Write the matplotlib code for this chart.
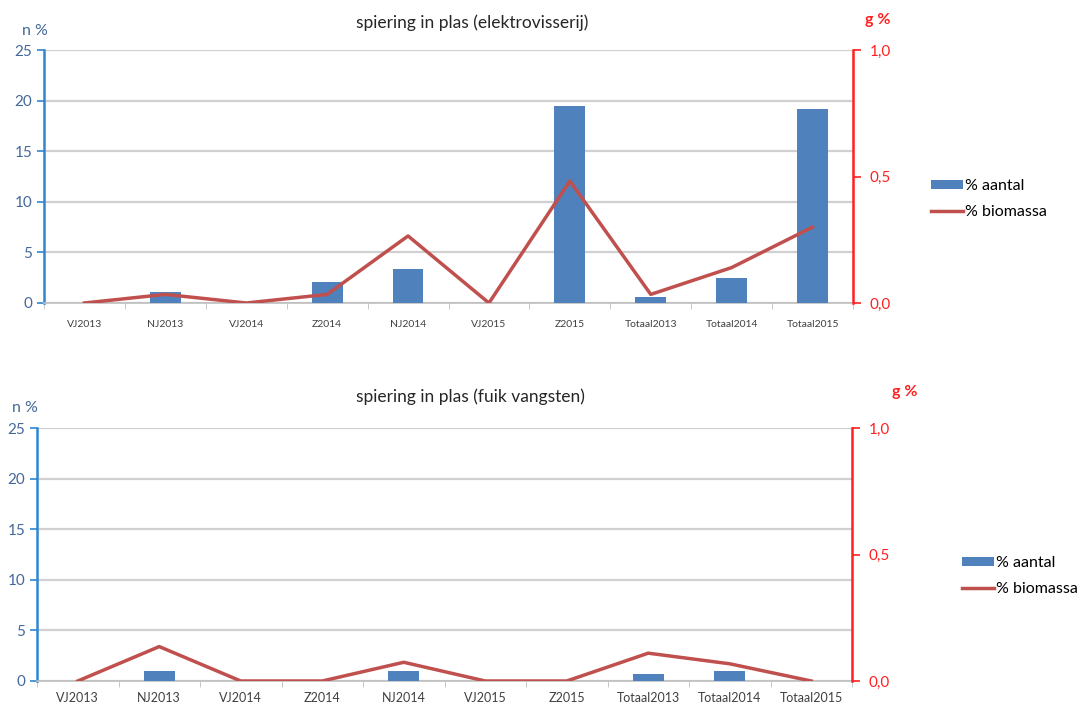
import matplotlib
matplotlib.use("Agg")
import matplotlib.pyplot as plt
import numpy as np
from matplotlib.ticker import FuncFormatter, FixedLocator

plt.rcParams['font.family'] = ['Lato', 'DejaVu Sans']

categories = ["VJ2013", "NJ2013", "VJ2014", "Z2014", "NJ2014", "VJ2015", "Z2015",
              "Totaal2013", "Totaal2014", "Totaal2015"]

# top chart: elektrovisserij
elek_aantal = [0, 1.1, 0, 2.1, 3.4, 0, 19.5, 0.6, 2.5, 19.2]
elek_biomassa = [0, 0.034, 0, 0.034, 0.265, 0, 0.482, 0.034, 0.14, 0.30]

# bottom chart: fuik vangsten
fuik_aantal = [0, 1.0, 0, 0, 1.0, 0, 0, 0.7, 0.95, 0]
fuik_biomassa = [0, 0.136, 0, 0, 0.074, 0, 0, 0.11, 0.068, 0]

titles = ["spiering in plas (elektrovisserij)", "spiering in plas (fuik vangsten)"]
legend_labels = ["% aantal", "% biomassa"]

BAR = "#4F81BD"
LINE = "#C0504D"
LBLUE = "#2E86D1"
TBLUE = "#44689A"
RED = "#FF2020"
GRID = "#D0D0D0"

fig = plt.figure(figsize=(10.85, 7.07), dpi=100)

def comma(v, pos):
    return f"{v:.1f}".replace(".", ",")

def make(rect, aantal, biomassa, title, xfs, xpad, title_xy, n_xy, g_xy, leg_xy):
    ax = fig.add_axes(rect)
    x = np.arange(len(categories))
    ax.bar(x, aantal, width=0.38, color=BAR, zorder=3, label=legend_labels[0])
    ax.set_xlim(-0.5, len(categories) - 0.5)
    ax.set_ylim(0, 25)
    ax.set_yticks([0, 5, 10, 15, 20, 25])
    ax.grid(axis='y', color=GRID, linewidth=1.6, zorder=0)
    ax.set_axisbelow(True)
    ax.set_xticks(x)
    ax.set_xticklabels(categories, fontsize=xfs, color="#404040")
    ax.xaxis.set_minor_locator(FixedLocator(np.arange(-0.5, len(categories), 1)))
    ax.tick_params(axis='x', which='major', length=0, pad=xpad)
    ax.tick_params(axis='x', which='minor', length=4, color="#BFBFBF", direction='out')
    ax.tick_params(axis='y', colors=LBLUE, labelcolor=TBLUE, labelsize=11, length=5, width=1.2)
    for s in ['top', 'right']:
        ax.spines[s].set_visible(False)
    ax.spines['left'].set_color(LBLUE)
    ax.spines['left'].set_linewidth(1.8)
    ax.spines['bottom'].set_color("#BFBFBF")
    ax.spines['bottom'].set_linewidth(1.2)

    ax2 = ax.twinx()
    ax2.plot(x, biomassa, color=LINE, linewidth=2.5, zorder=4, label=legend_labels[1])
    ax2.set_ylim(0, 1.0)
    ax2.set_yticks([0, 0.5, 1.0])
    ax2.yaxis.set_major_formatter(FuncFormatter(comma))
    ax2.tick_params(axis='y', colors=RED, labelcolor=RED, labelsize=11, length=6, width=1.2, pad=6)
    for s in ['top', 'left', 'bottom']:
        ax2.spines[s].set_visible(False)
    ax2.spines['right'].set_color(RED)
    ax2.spines['right'].set_linewidth(1.8)

    fig.text(title_xy[0], title_xy[1], title, ha='center', va='center', fontsize=12.5, color="#262626")
    fig.text(n_xy[0], n_xy[1], "n %", ha='left', va='center', fontsize=11.5, color=TBLUE)
    fig.text(g_xy[0], g_xy[1], "g %", ha='left', va='center', fontsize=11.5, color=RED, fontweight='bold')

    h1, l1 = ax.get_legend_handles_labels()
    h2, l2 = ax2.get_legend_handles_labels()
    fig.legend(h1 + h2, l1 + l2, loc='upper left', bbox_to_anchor=leg_xy, frameon=False,
               fontsize=11.5, handlelength=2.0, handleheight=0.5, handletextpad=0.1,
               labelspacing=0.75, borderpad=0, borderaxespad=0)
    return ax, ax2

make([44/1085, 1-303/707, (853-44)/1085, (303-50)/707], elek_aantal, elek_biomassa, titles[0], 7.5, 12,
     (472/1085, 1-23/707), (22/1085, 1-31/707), (865/1085, 1-20/707), (931/1085, 1-179/707))
make([37/1085, 1-681/707, (852-37)/1085, (681-428)/707], fuik_aantal, fuik_biomassa, titles[1], 9, 8,
     (470/1085, 1-397/707), (12/1085, 1-408/707), (892/1085, 1-392/707), (962/1085, 1-556/707))

fig.savefig("out.png", dpi=100)
